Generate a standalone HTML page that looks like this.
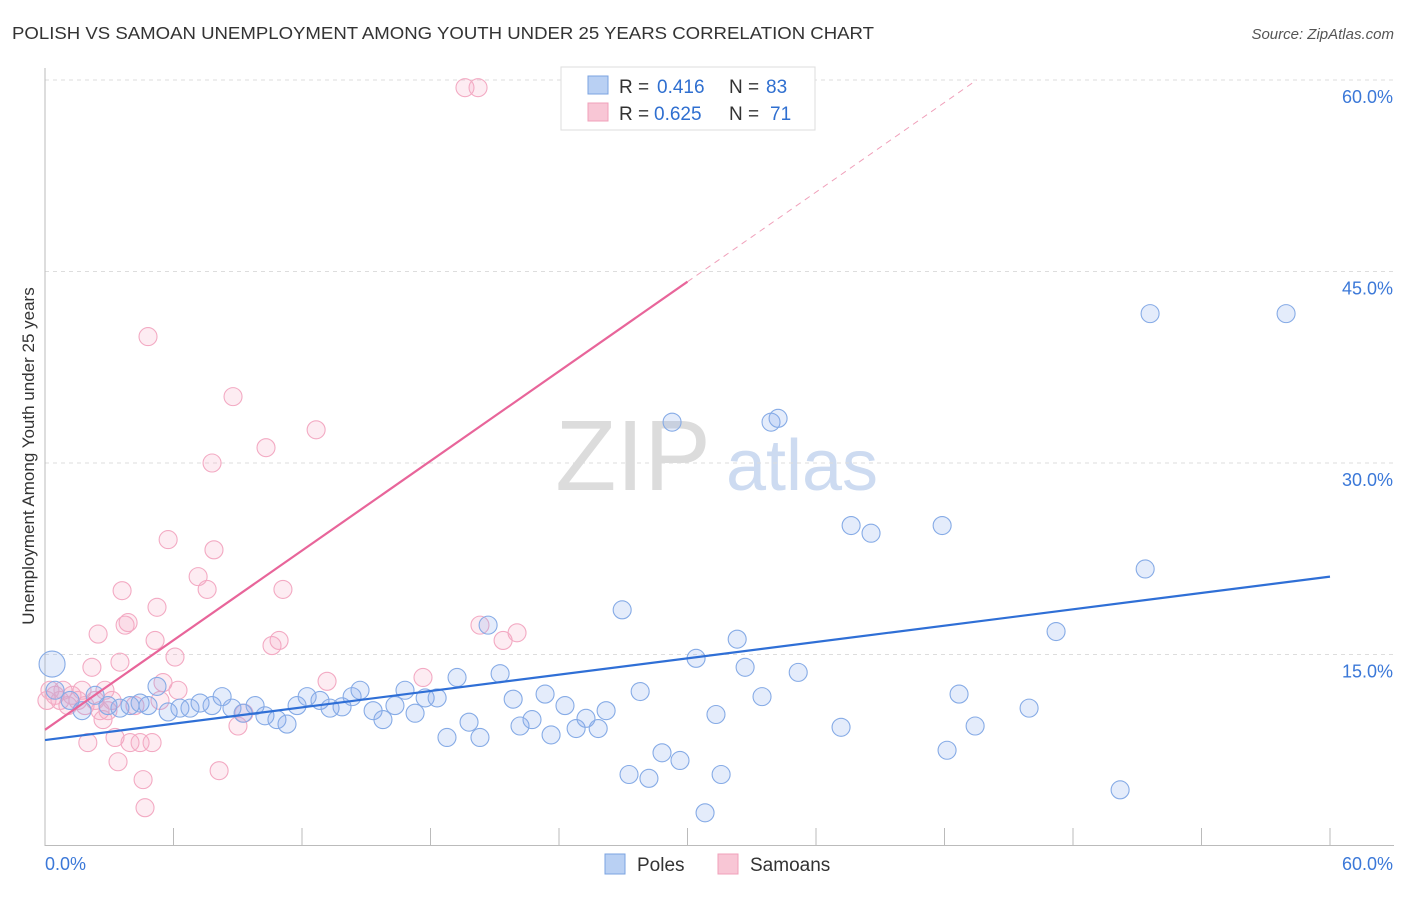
<!DOCTYPE html>
<html><head><meta charset="utf-8"><style>
body{margin:0;background:#fff;font-family:"Liberation Sans",sans-serif;}
svg text{font-family:"Liberation Sans",sans-serif;}
</style></head><body>
<svg id="chart" width="1406" height="892" viewBox="0 0 1406 892" xmlns="http://www.w3.org/2000/svg">
<text x="12" y="39" font-size="17.5" fill="#333" textLength="862" lengthAdjust="spacingAndGlyphs">POLISH VS SAMOAN UNEMPLOYMENT AMONG YOUTH UNDER 25 YEARS CORRELATION CHART</text>
<text x="1394" y="39" font-size="15" fill="#555" text-anchor="end" font-style="italic">Source: ZipAtlas.com</text>
<g>
<text x="633" y="490" font-size="100" fill="#dcdcdc" text-anchor="middle" font-family="Liberation Serif,serif">ZIP</text>
<text x="802" y="490" font-size="72" fill="#cddbf1" text-anchor="middle">atlas</text>
</g>
<g id="grid"></g>
<g id="axes"></g>
<g id="marks"></g>
<text transform="translate(34,456) rotate(-90)" font-size="17" fill="#333" text-anchor="middle">Unemployment Among Youth under 25 years</text>
<g>
<rect x="561" y="67" width="254" height="63" fill="#fff" stroke="#ddd"/>
<rect x="588" y="76" width="20" height="18" fill="#b9d0f3" stroke="#7ba3e0"/>
<rect x="588" y="103" width="20" height="18" fill="#f8c6d5" stroke="#f0a0ba"/>
<text x="619" y="93" font-size="19" fill="#333">R =</text>
<text x="657" y="93" font-size="19" fill="#2f6fd0">0.416</text>
<text x="729" y="93" font-size="19" fill="#333">N =</text>
<text x="766" y="93" font-size="19" fill="#2f6fd0">83</text>
<text x="619" y="120" font-size="19" fill="#333">R =</text>
<text x="654" y="120" font-size="19" fill="#2f6fd0">0.625</text>
<text x="729" y="120" font-size="19" fill="#333">N =</text>
<text x="770" y="120" font-size="19" fill="#2f6fd0">71</text>
</g>
<g>
<rect x="605" y="854" width="20" height="20" fill="#b9d0f3" stroke="#7ba3e0"/>
<text x="637" y="871" font-size="19" fill="#333">Poles</text>
<rect x="718" y="854" width="20" height="20" fill="#f8c6d5" stroke="#f0a0ba"/>
<text x="750" y="871" font-size="19" fill="#333">Samoans</text>
</g>
</svg>
<script>
const xTicks=[6,12,18,24,30,36,42,48,54,60];
const yTicks=[15,30,45,60];
const polesX=[0.33,0.47,1.17,1.73,2.34,2.94,3.5,3.97,4.44,4.81,5.23,5.75,6.3,6.77,7.24,7.8,8.27,8.73,9.25,9.81,10.27,10.83,11.3,11.77,12.24,12.84,13.31,13.87,14.34,14.71,15.32,15.78,16.34,16.81,17.28,17.75,18.31,18.77,19.24,19.8,20.31,20.69,21.25,21.86,22.18,22.74,23.35,23.63,24.28,24.8,25.26,25.83,26.2,26.95,27.27,27.79,28.2,28.81,29.28,29.65,30.4,30.82,31.33,31.57,32.32,32.69,33.48,33.9,34.23,35.17,37.17,37.64,38.57,41.89,42.12,42.68,43.43,45.95,47.21,50.2,51.37,51.6,57.95];
const polesY=[14.25,12.2,11.4,10.6,11.8,11.0,10.8,11.0,11.2,11.0,12.5,10.5,10.8,10.8,11.2,11.0,11.7,10.8,10.4,11.0,10.2,9.9,9.55,11.0,11.7,11.4,10.8,10.9,11.7,12.2,10.6,9.9,11.0,12.2,10.4,11.6,11.6,8.5,13.2,9.7,8.5,17.3,13.5,11.5,9.4,9.9,11.9,8.7,11.0,9.2,10.0,9.2,10.6,18.5,5.6,12.1,5.3,7.3,33.2,6.7,14.7,2.6,10.3,5.6,16.2,14.0,11.7,33.2,33.5,13.6,9.3,25.1,24.5,25.1,7.5,11.9,9.4,10.8,16.8,4.4,21.7,41.7,41.7];
const samoansX=[0.09,0.23,0.47,0.7,0.84,1.07,1.26,1.54,1.73,1.87,2.0,2.19,2.34,2.48,2.57,2.71,2.8,2.94,3.13,3.27,3.41,3.5,3.6,3.74,3.88,3.97,4.2,4.44,4.58,4.67,4.81,5.0,5.14,5.23,5.37,5.51,5.75,6.07,6.21,7.15,7.57,7.8,7.89,8.13,8.78,9.01,9.29,10.32,10.6,10.93,11.11,12.66,13.17,17.65,19.61,20.22,20.31,21.39,22.04,27.3];
const samoansY=[11.4,12.2,11.8,11.4,12.2,11.0,11.8,11.4,12.2,11.0,8.1,14.0,11.4,16.6,10.6,9.9,12.2,10.6,11.4,8.5,6.6,14.4,20.0,17.3,17.5,8.1,11.0,8.1,5.2,3.0,39.9,8.1,16.1,18.7,11.4,12.8,24.0,14.8,12.2,21.1,20.1,30.0,23.2,5.9,35.2,9.4,10.4,31.2,15.7,16.1,20.1,32.6,12.9,13.2,59.4,59.4,17.3,16.1,16.7,58.0];
const polesFit=[8.3,21.1];      // y at x=0, y at x=60
const samoansFit=[9.1,1.17];    // intercept, slope
const NS="http://www.w3.org/2000/svg";
const X=v=>45+v/60*1285, Y=v=>846-v/60*766;
function mk(tag,attrs,parent){const e=document.createElementNS(NS,tag);for(const k in attrs)e.setAttribute(k,attrs[k]);document.getElementById(parent).appendChild(e);return e;}
yTicks.forEach(t=>{
 const g=mk('line',{x1:45,x2:1394,y1:Y(t),y2:Y(t),stroke:'#ddd','stroke-dasharray':'4,4'},'grid');
 
 
 const l=mk('text',{x:1393,y:Y(t)+23,'font-size':18,fill:'#3b78d8','text-anchor':'end'},'axes');
 l.textContent=t.toFixed(1)+'%';
 
 
});
const ax=mk('line',{x1:45,x2:45,y1:68,y2:846,stroke:'#bbb'},'axes');


const bx=mk('line',{x1:45,x2:1394,y1:845.5,y2:845.5,stroke:'#bbb'},'axes');


xTicks.forEach(t=>{
 const tk=mk('line',{x1:X(t),x2:X(t),y1:828,y2:845,stroke:'#bbb'},'axes');
 
 
});
[[0,'start',45],[60,'end',1393]].forEach(([v,a,px])=>{
 const l=mk('text',{x:px,y:870,'font-size':18,fill:'#3b78d8','text-anchor':a},'axes');
 l.textContent=v.toFixed(1)+'%';
 
 
});
samoansX.forEach((x,i)=>{
 const c=mk('circle',{cx:X(x),cy:Y(samoansY[i]),r:9,fill:'rgba(246,170,196,0.22)',stroke:'#f3aac3','stroke-width':1.1},'marks');
 
 
});
polesX.forEach((x,i)=>{
 const c=mk('circle',{cx:X(x),cy:Y(polesY[i]),r:i===0?13:9,fill:'rgba(130,170,235,0.22)',stroke:'#86abe6','stroke-width':1.1},'marks');
 
 
});
const pl=mk('line',{x1:X(0),y1:Y(polesFit[0]),x2:X(60),y2:Y(polesFit[1]),stroke:'#2f6fd6','stroke-width':2.2},'marks');


const xEnd=30, xTop=(60-samoansFit[0])/samoansFit[1];
const sl=mk('line',{x1:X(0),y1:Y(samoansFit[0]),x2:X(xEnd),y2:Y(samoansFit[0]+samoansFit[1]*xEnd),stroke:'#e8659a','stroke-width':2.2},'marks');


const sd=mk('line',{x1:X(xEnd),y1:Y(samoansFit[0]+samoansFit[1]*xEnd),x2:X(xTop),y2:Y(60),stroke:'#f0a0ba','stroke-width':1,'stroke-dasharray':'6,5'},'marks');


</script>
</body></html>
